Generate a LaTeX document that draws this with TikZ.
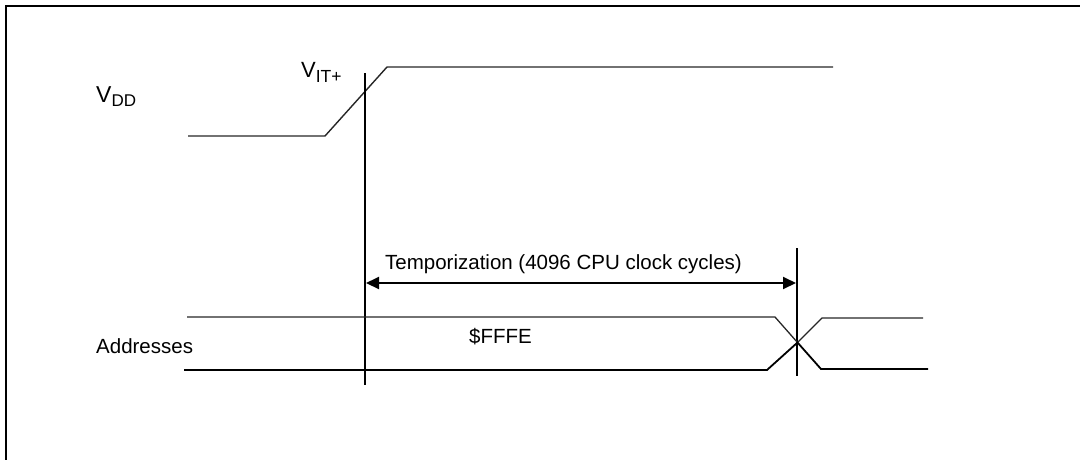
\documentclass[tikz,border=0pt]{standalone}
\usepackage{fontspec}
\setmainfont{Liberation Sans}
\usetikzlibrary{arrows.meta}
\begin{document}
\begin{tikzpicture}[x=1pt,y=-1pt,
  lbl/.style={anchor=base west,inner sep=0pt,font=\fontsize{20.5}{24}\selectfont},
  wave/.style={line width=1.4pt,draw=black!85,line join=miter},
  marker/.style={line width=2pt,draw=black},
  frameline/.style={line width=2.6pt,draw=black}]
\useasboundingbox (0,0) rectangle (1080,459);
\clip (0,0) rectangle (1080,459);
% frame
\coordinate (fbl) at (6,470);
\coordinate (ftl) at (6,6);
\coordinate (ftr) at (1090,6);
\draw[frameline] (fbl) -- (ftl) -- (ftr);
% labels
\node[lbl,font=\fontsize{23}{28}\selectfont] (vdd) at (96,102) {V\raisebox{-4pt}{\fontsize{17}{20}\selectfont DD}};
\node[lbl,font=\fontsize{22}{24}\selectfont] (vit) at (301,77) {V\raisebox{-5pt}{\fontsize{17.5}{20}\selectfont IT+}};
\node[lbl] (temp) at (385,269) {Temporization (4096 CPU clock cycles)};
\node[lbl] (fffe) at (469,343) {\$FFFE};
\node[lbl] (addr) at (96,353) {Addresses};
% VDD waveform
\coordinate (v0) at (188,136);
\coordinate (v1) at (325,136);
\coordinate (v2) at (387,67);
\coordinate (v3) at (833,67);
\draw[wave] (v0) -- (v1) -- (v2) -- (v3);
% vertical markers
\coordinate (m1t) at (365,73);
\coordinate (m1b) at (365,385);
\coordinate (m2t) at (797,248);
\coordinate (m2b) at (797,376);
\draw[marker] (m1t) -- (m1b);
\draw[marker] (m2t) -- (m2b);
% temporization arrow
\coordinate (a1) at (366,283);
\coordinate (a2) at (796,283);
\draw[marker,{Triangle[length=13pt,width=12pt]}-{Triangle[length=13pt,width=12pt]}] (a1) -- (a2);
% addresses waveform
\coordinate (t0) at (187,317);
\coordinate (t1) at (775,317);
\coordinate (t2) at (821,369);
\coordinate (t3) at (928,369);
\coordinate (b0) at (184,370);
\coordinate (b1) at (767,370);
\coordinate (b2) at (822,318);
\coordinate (b3) at (923,318);
\coordinate (x) at (797.5,342.5);
\draw[wave,line width=1.3pt] (t0) -- (t1) -- (x) -- (b2) -- (b3);
\draw[wave,line width=1.8pt,draw=black] (b0) -- (b1) -- (x) -- (t2) -- (t3);
\end{tikzpicture}
\end{document}
